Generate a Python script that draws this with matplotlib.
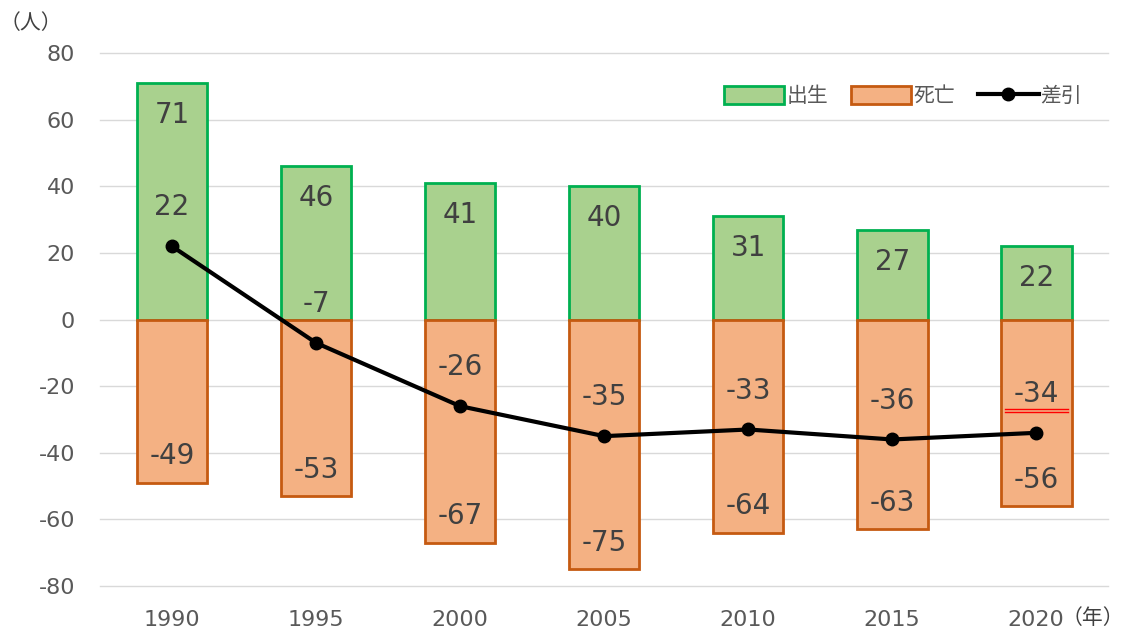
import numpy as np
import matplotlib
matplotlib.use('Agg')
import matplotlib.pyplot as plt
from matplotlib.transforms import ScaledTranslation

plt.rcParams['font.family'] = ['DejaVu Sans', 'Noto Sans CJK JP']
plt.rcParams['axes.unicode_minus'] = False

# data
years = ['1990', '1995', '2000', '2005', '2010', '2015', '2020']
births = [71, 46, 41, 40, 31, 27, 22]
deaths = [-49, -53, -67, -75, -64, -63, -56]
diff = [22, -7, -26, -35, -33, -36, -34]

x = np.arange(len(years))
txt = '#404040'

fig = plt.figure(figsize=(11.24, 6.32), dpi=100)
ax = fig.add_axes([0.089, 0.0728, 0.897, 0.843])

b1 = ax.bar(x, births, width=0.49, color='#a9d18e', edgecolor='#00b050', linewidth=2, label='出生', zorder=2)
b2 = ax.bar(x, deaths, width=0.49, color='#f4b183', edgecolor='#c55a11', linewidth=2, label='死亡', zorder=2)
ln, = ax.plot(x, diff, color='black', lw=3, marker='o', ms=9, label='差引', zorder=3)

# value labels
for i in range(len(x)):
    ax.annotate(str(births[i]), (x[i], births[i]), xytext=(0, -23), textcoords='offset points',
                ha='center', va='center', fontsize=20, color=txt, zorder=4)
    ax.annotate(str(deaths[i]), (x[i], deaths[i]), xytext=(0, 19), textcoords='offset points',
                ha='center', va='center', fontsize=20, color=txt, zorder=4)
    ax.annotate(str(diff[i]), (x[i], diff[i]), xytext=(0, 28), textcoords='offset points',
                ha='center', va='center', fontsize=20, color=txt, zorder=4)

# red double underline under the last difference label (as in the source screenshot)
for dy in (17, 14.8):
    ax.plot([x[-1] - 0.22, x[-1] + 0.22], [diff[-1], diff[-1]], color='red', lw=1,
            transform=ax.transData + ScaledTranslation(0, dy / 72, fig.dpi_scale_trans),
            zorder=5)

ax.set_xlim(-0.5, len(x) - 0.5)
ax.set_ylim(-80, 80)
ax.set_yticks(np.arange(-80, 81, 20))
ax.set_xticks(x)
ax.set_xticklabels(years)
ax.tick_params(axis='both', length=0, labelsize=16, colors='#595959')
ax.tick_params(axis='x', pad=17)
ax.tick_params(axis='y', pad=18)
ax.grid(axis='y', color='#d9d9d9', lw=1, zorder=0)
for gl in ax.get_ygridlines():
    gl.set_clip_on(False)
ax.set_axisbelow(True)
for s in ax.spines.values():
    s.set_visible(False)

ax.legend(handles=[b1, b2, ln], loc='upper right', bbox_to_anchor=(0.993, 0.975), ncol=3, frameon=False,
          prop={'family': ['Noto Sans CJK JP'], 'size': 15},
          handlelength=2.9, handleheight=0.9, handletextpad=0.1, columnspacing=1.1, labelcolor='#595959')

fig.text(0.0, 0.963, '（人）', fontsize=15, color=txt, ha='left', va='center', family=['Noto Sans CJK JP'])
fig.text(1.0, 0.022, '（年）', fontsize=15, color=txt, ha='right', va='center', family=['Noto Sans CJK JP'])

fig.savefig('out.png', dpi=100)
